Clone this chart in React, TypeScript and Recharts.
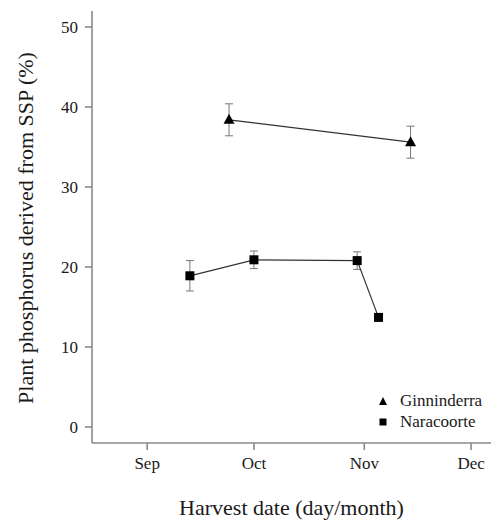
import React from 'react';
import { ComposedChart, Line, XAxis, YAxis, ErrorBar } from 'recharts';

// Days counted from 1 September
const monthTicks = [0, 30, 61, 91];
const monthLabels = ['Sep', 'Oct', 'Nov', 'Dec'];
const yTicks = [0, 10, 20, 30, 40, 50];

const ginDays = [23, 74];
const ginValues = [38.4, 35.6];
const ginErrors = [2.0, 2.0];

const naraDays = [12, 30, 59, 65];
const naraValues = [18.9, 20.9, 20.8, 13.7];
const naraErrors = [1.9, 1.1, 1.1, 0.4];

const ginData = ginDays.map((d, i) => ({ day: d, value: ginValues[i], err: ginErrors[i] }));
const naraData = naraDays.map((d, i) => ({ day: d, value: naraValues[i], err: naraErrors[i] }));

const FONT = '"Liberation Serif", "Times New Roman", serif';
const AXIS = '#8a8a8a';
const TEXT = '#1a1a1a';

const Triangle = (props: any) => {
  const { cx, cy } = props;
  if (cx == null || cy == null) return null;
  const w = 11, h = 10;
  return <polygon points={`${cx - w / 2},${cy + h / 2 - 1} ${cx + w / 2},${cy + h / 2 - 1} ${cx},${cy - h / 2 - 1}`} fill="#000" />;
};
const Square = (props: any) => {
  const { cx, cy } = props;
  if (cx == null || cy == null) return null;
  const s = 9;
  return <rect x={cx - s / 2} y={cy - s / 2} width={s} height={s} fill="#000" />;
};

const legendItems = [
  { name: 'Ginninderra', shape: 'triangle' },
  { name: 'Naracoorte', shape: 'square' },
];

const LegendBox = () => (
  <div style={{ position: 'absolute', left: 375, top: 390, fontFamily: FONT, fontSize: 17, color: TEXT, lineHeight: '21px' }}>
    {legendItems.map((it) => (
      <div key={it.name} style={{ display: 'flex', alignItems: 'center', height: 21 }}>
        <svg width={16} height={12} style={{ marginRight: 9 }}>
          {it.shape === 'triangle' ? (
            <polygon points="4,10 12,10 8,2" fill="#000" />
          ) : (
            <rect x={4.5} y={2.5} width={7} height={7} fill="#000" />
          )}
        </svg>
        <span>{it.name}</span>
      </div>
    ))}
  </div>
);

export default function App() {
  return (
    <div style={{ position: 'absolute', left: 0, top: 0, width: 491, height: 521, background: '#fff' }}>
      <ComposedChart width={491} height={521} margin={{ top: 11, right: 0, bottom: 0, left: 0 }}>
        <XAxis
          type="number"
          dataKey="day"
          domain={[-15.5, 96.6]}
          allowDataOverflow
          ticks={monthTicks}
          tickFormatter={(v: number) => monthLabels[monthTicks.indexOf(v)] ?? ''}
          height={78}
          stroke={AXIS}
          strokeWidth={1.6}
          tickSize={7}
          tickMargin={7}
          tick={{ fill: TEXT, fontFamily: FONT, fontSize: 17 }}
          label={{
            content: (p: any) => {
              const vb = p.viewBox || {};
              return (
                <text x={vb.x + vb.width / 2} y={515} textAnchor="middle" style={{ fontFamily: FONT }} fontSize={22} fill={TEXT}>
                  Harvest date (day/month)
                </text>
              );
            },
          }}
        />
        <YAxis
          type="number"
          domain={[-2, 52]}
          allowDataOverflow
          ticks={yTicks}
          width={92}
          stroke={AXIS}
          strokeWidth={1.6}
          tickSize={7}
          tickMargin={7}
          tick={{ fill: TEXT, fontFamily: FONT, fontSize: 17 }}
          label={{
            content: (p: any) => {
              const vb = p.viewBox || {};
              const cx = 25;
              const cy = vb.y + vb.height / 2 + 1;
              return (
                <text x={cx} y={cy} transform={`rotate(-90 ${cx} ${cy})`} textAnchor="middle" dominantBaseline="central" style={{ fontFamily: FONT }} fontSize={22} fill={TEXT}>
                  Plant phosphorus derived from SSP (%)
                </text>
              );
            },
          }}
        />
        <Line
          data={ginData}
          dataKey="value"
          name="Ginninderra"
          type="linear"
          stroke="#333"
          strokeWidth={1.2}
          dot={<Triangle />}
          activeDot={false}
          isAnimationActive={false}
        >
          <ErrorBar dataKey="err" width={4} stroke="#777" strokeWidth={1} direction="y" />
        </Line>
        <Line
          data={naraData}
          dataKey="value"
          name="Naracoorte"
          type="linear"
          stroke="#333"
          strokeWidth={1.2}
          dot={<Square />}
          activeDot={false}
          isAnimationActive={false}
        >
          <ErrorBar dataKey="err" width={4} stroke="#777" strokeWidth={1} direction="y" />
        </Line>
      </ComposedChart>
      <LegendBox />
    </div>
  );
}
